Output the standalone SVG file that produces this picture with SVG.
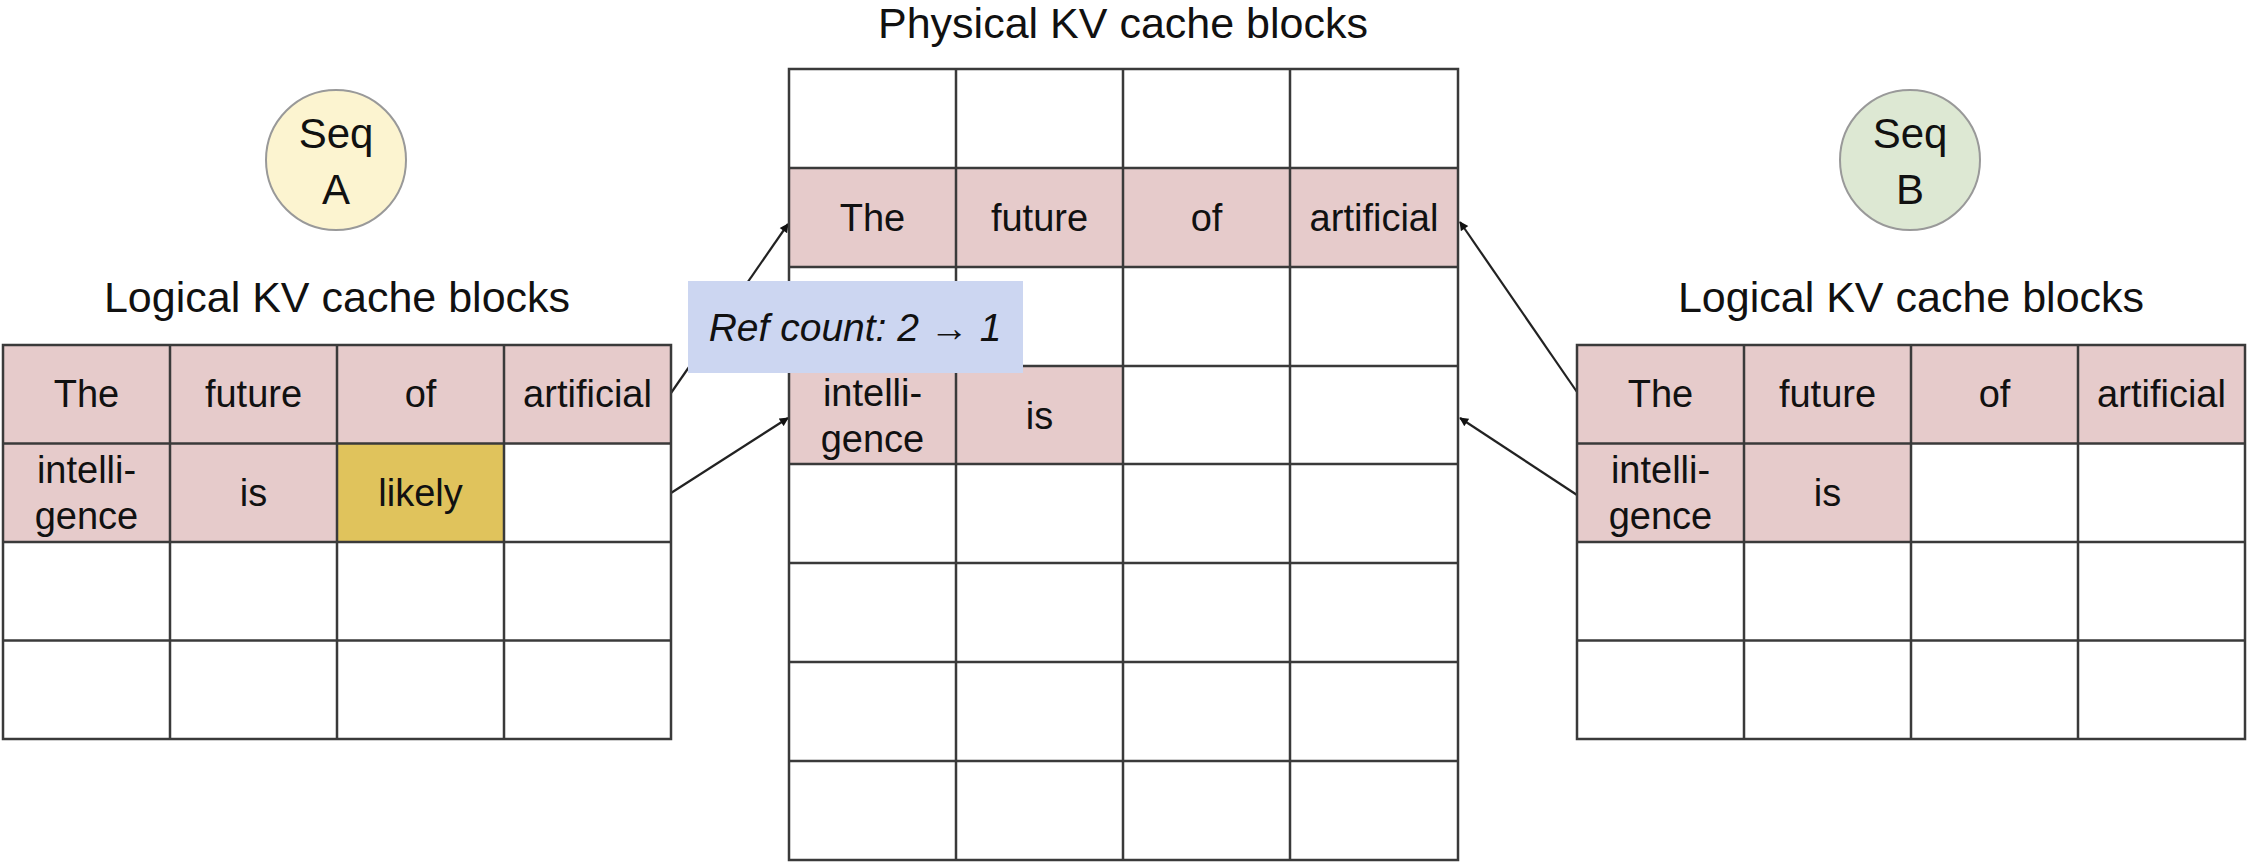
<svg xmlns="http://www.w3.org/2000/svg" width="2255" height="867" viewBox="0 0 2255 867">
<style>
text{font-family:"Liberation Sans",Arial,sans-serif;fill:#111;text-anchor:middle}
.t{font-size:43px}
.c{font-size:38px}
.s{font-size:42px}
.r{font-size:39px;font-style:italic}
.grid line,.grid rect.o{stroke:#3a3a3a;stroke-width:2.5;fill:none}
.p{fill:#e6cbcb}
.y{fill:#e0c35c}
.conn line{stroke:#222;stroke-width:2.2}
</style>
<defs>
<marker id="ah" viewBox="0 0 10 10" refX="9" refY="5" markerWidth="10" markerHeight="9" orient="auto" markerUnits="userSpaceOnUse">
<path d="M0,0 L10,5 L0,10 z" fill="#111"/>
</marker>
</defs>
<rect width="2255" height="867" fill="#fff"/>

<g id="seqA">
<circle cx="336" cy="160" r="70" fill="#fcf4d0" stroke="#999" stroke-width="2"/>
<text class="s" x="336" y="148">Seq</text>
<text class="s" x="336" y="204">A</text>
</g>
<g id="seqB">
<circle cx="1910" cy="160" r="70" fill="#dde8d3" stroke="#999" stroke-width="2"/>
<text class="s" x="1910" y="148">Seq</text>
<text class="s" x="1910" y="204">B</text>
</g>

<g id="connectors" class="conn">
<line x1="671" y1="393" x2="788" y2="224" marker-end="url(#ah)"/>
<line x1="671" y1="493" x2="788" y2="418" marker-end="url(#ah)"/>
<line x1="1577" y1="392" x2="1460" y2="222" marker-end="url(#ah)"/>
<line x1="1577" y1="495" x2="1460" y2="418" marker-end="url(#ah)"/>
</g>

<g id="logicalA">
<text class="t" x="337" y="312">Logical KV cache blocks</text>
<g class="grid">
<rect class="p" x="3" y="345" width="668" height="98.5"/>
<rect class="p" x="3" y="443.5" width="334" height="98.5"/>
<rect class="y" x="337" y="443.5" width="167" height="98.5"/>
<rect class="o" x="3" y="345" width="668" height="394"/>
<line x1="170" y1="345" x2="170" y2="739"/>
<line x1="337" y1="345" x2="337" y2="739"/>
<line x1="504" y1="345" x2="504" y2="739"/>
<line x1="3" y1="443.5" x2="671" y2="443.5"/>
<line x1="3" y1="542" x2="671" y2="542"/>
<line x1="3" y1="640.5" x2="671" y2="640.5"/>
</g>
<text class="c" x="86.5" y="407">The</text>
<text class="c" x="253.5" y="407">future</text>
<text class="c" x="420.5" y="407">of</text>
<text class="c" x="587.5" y="407">artificial</text>
<text class="c" x="86.5" y="483">intelli-</text>
<text class="c" x="86.5" y="529">gence</text>
<text class="c" x="253.5" y="506">is</text>
<text class="c" x="420.5" y="506">likely</text>
</g>

<g id="physical">
<text class="t" x="1123" y="38">Physical KV cache blocks</text>
<g class="grid">
<rect class="p" x="789" y="168" width="669" height="99"/>
<rect class="p" x="789" y="366" width="334" height="98"/>
<rect class="o" x="789" y="69" width="669" height="791"/>
<line x1="956" y1="69" x2="956" y2="860"/>
<line x1="1123" y1="69" x2="1123" y2="860"/>
<line x1="1290" y1="69" x2="1290" y2="860"/>
<line x1="789" y1="168" x2="1458" y2="168"/>
<line x1="789" y1="267" x2="1458" y2="267"/>
<line x1="789" y1="366" x2="1458" y2="366"/>
<line x1="789" y1="464" x2="1458" y2="464"/>
<line x1="789" y1="563" x2="1458" y2="563"/>
<line x1="789" y1="662" x2="1458" y2="662"/>
<line x1="789" y1="761" x2="1458" y2="761"/>
</g>
<text class="c" x="872.5" y="231">The</text>
<text class="c" x="1039.5" y="231">future</text>
<text class="c" x="1206.5" y="231">of</text>
<text class="c" x="1374" y="231">artificial</text>
<text class="c" x="872.5" y="406">intelli-</text>
<text class="c" x="872.5" y="452">gence</text>
<text class="c" x="1039.5" y="429">is</text>
</g>

<g id="logicalB">
<text class="t" x="1911" y="312">Logical KV cache blocks</text>
<g class="grid">
<rect class="p" x="1577" y="345" width="668" height="98.5"/>
<rect class="p" x="1577" y="443.5" width="334" height="98.5"/>
<rect class="o" x="1577" y="345" width="668" height="394"/>
<line x1="1744" y1="345" x2="1744" y2="739"/>
<line x1="1911" y1="345" x2="1911" y2="739"/>
<line x1="2078" y1="345" x2="2078" y2="739"/>
<line x1="1577" y1="443.5" x2="2245" y2="443.5"/>
<line x1="1577" y1="542" x2="2245" y2="542"/>
<line x1="1577" y1="640.5" x2="2245" y2="640.5"/>
</g>
<text class="c" x="1660.5" y="407">The</text>
<text class="c" x="1827.5" y="407">future</text>
<text class="c" x="1994.5" y="407">of</text>
<text class="c" x="2161.5" y="407">artificial</text>
<text class="c" x="1660.5" y="483">intelli-</text>
<text class="c" x="1660.5" y="529">gence</text>
<text class="c" x="1827.5" y="506">is</text>
</g>

<g id="refcount">
<rect x="688" y="281" width="335" height="92" fill="#ccd6f1"/>
<text class="r" x="855" y="341">Ref count: 2 → 1</text>
</g>
</svg>
